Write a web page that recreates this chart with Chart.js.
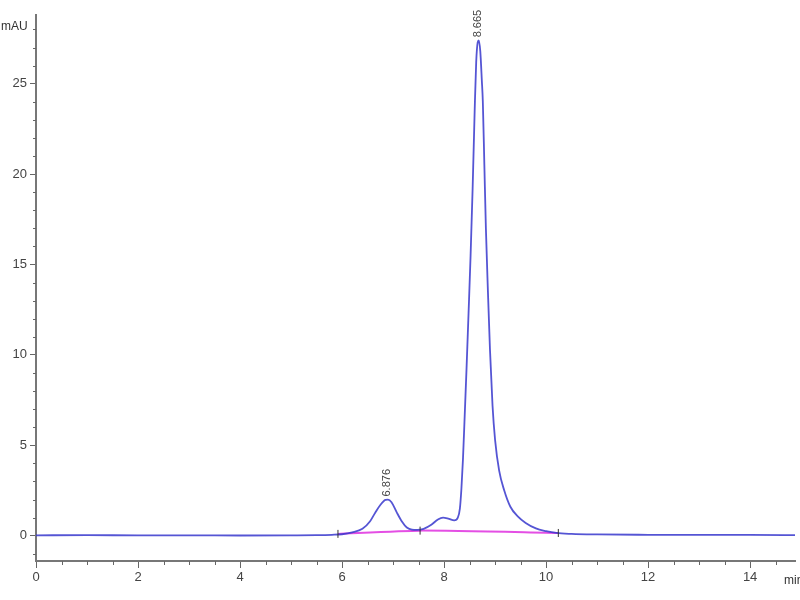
<!DOCTYPE html>
<html>
<head>
<meta charset="utf-8">
<script src="https://cdn.jsdelivr.net/npm/chart.js@4"></script>
<style>
  html, body { margin: 0; padding: 0; background: #fff; }
  #wrap { width: 800px; height: 600px; }
</style>
</head>
<body>
<div id="wrap"><canvas id="myChart" width="800" height="600"></canvas></div>
<script>
// chromatogram trace (min, mAU)
const times = [0, 1, 2, 3, 4, 5, 5.5, 5.8, 6.0, 6.2, 6.4, 6.55, 6.65, 6.75, 6.85, 6.9, 6.97, 7.07, 7.17, 7.27, 7.37, 7.47, 7.6, 7.75, 7.88, 7.98, 8.08, 8.2, 8.27, 8.31, 8.34, 8.37, 8.40, 8.44, 8.48, 8.52, 8.56, 8.60, 8.63, 8.66, 8.68, 8.71, 8.74, 8.76, 8.79, 8.82, 8.86, 8.90, 8.95, 9.0, 9.08, 9.18, 9.3, 9.45, 9.6, 9.8, 10.0, 10.2, 10.5, 11, 12, 13, 14, 15];
const signal = [0.02, 0.03, 0.02, 0.02, 0.01, 0.02, 0.03, 0.05, 0.08, 0.18, 0.38, 0.8, 1.27, 1.7, 1.98, 2.0, 1.85, 1.3, 0.8, 0.45, 0.33, 0.32, 0.38, 0.6, 0.9, 1.0, 0.95, 0.85, 1.0, 1.5, 2.6, 4.2, 6.3, 9.2, 12.3, 15.5, 19.2, 23.5, 26.2, 27.3, 27.4, 26.8, 25.2, 24.0, 20.5, 17.0, 13.5, 10.3, 7.2, 5.3, 3.6, 2.5, 1.6, 1.05, 0.7, 0.4, 0.25, 0.15, 0.1, 0.07, 0.05, 0.04, 0.04, 0.03];

// integration baseline
const baseTimes = [5.92, 7.53, 10.24];
const baseValues = [0.1, 0.28, 0.15];

// peak labels
const peakTimes = [6.876, 8.665];
const peakHeights = [2.0, 27.4];
const peakLabels = ['6.876', '8.665'];

const fontFam = "'Liberation Sans Narrow', 'Liberation Sans', Arial, sans-serif";

const extras = {
    id: 'extras',
    afterDraw(chart) {
        const c = chart.ctx;
        const xs = chart.scales.x, ys = chart.scales.y;
        c.save();
        c.strokeStyle = '#666';
        c.lineWidth = 1;
        // minor ticks y
        for (let v = -1; v <= 28; v++) {
            if (v % 5 === 0) continue;
            const p = Math.round(ys.getPixelForValue(v)) + 0.5;
            c.beginPath(); c.moveTo(xs.left - 3, p); c.lineTo(xs.left, p); c.stroke();
        }
        // minor ticks x
        for (let v = 0.5; v < 15; v += 0.5) {
            if (v % 2 === 0) continue;
            const p = Math.round(xs.getPixelForValue(v)) + 0.5;
            c.beginPath(); c.moveTo(p, ys.bottom); c.lineTo(p, ys.bottom + 4); c.stroke();
        }
        // axis titles
        c.fillStyle = '#333';
        c.font = '12px ' + fontFam;
        c.textAlign = 'left';
        c.textBaseline = 'alphabetic';
        c.fillText('mAU', 1, 30);
        c.fillText('min', 784, 584);
        // peak labels
        c.font = '11px ' + fontFam;
        c.fillStyle = '#444';
        peakTimes.forEach((t, i) => {
            const px = xs.getPixelForValue(t);
            const py = ys.getPixelForValue(peakHeights[i]) - 3;
            c.save();
            c.translate(px, py);
            c.rotate(-Math.PI / 2);
            c.textAlign = 'left';
            c.textBaseline = 'middle';
            c.fillText(peakLabels[i], 0, 0);
            c.restore();
        });
        c.restore();
    }
};

const ctx = document.getElementById('myChart').getContext('2d');
let myChart = new Chart(ctx, {
    type: 'line',
    data: {
        datasets: [
            {
                label: 'Baseline',
                data: baseTimes.map((t, i) => ({ x: t, y: baseValues[i] })),
                borderColor: 'rgba(225, 60, 225, 0.9)',
                borderWidth: 2,
                pointRadius: 0,
                tension: 0.2,
                order: 2
            },
            {
                label: 'Signal',
                data: times.map((t, i) => ({ x: t, y: signal[i] })),
                borderColor: 'rgba(55, 55, 205, 0.85)',
                borderWidth: 1.8,
                pointRadius: 0,
                cubicInterpolationMode: 'monotone',
                order: 1
            },
            {
                label: 'Marks',
                data: baseTimes.map((t, i) => ({ x: t, y: baseValues[i] })),
                showLine: false,
                pointStyle: 'line',
                rotation: 90,
                pointRadius: 4,
                borderColor: '#333',
                borderWidth: 1,
                order: 0
            }
        ]
    },
    options: {
        responsive: false,
        animation: false,
        layout: { padding: { top: 15, right: 0, left: 0, bottom: 0 } },
        plugins: { legend: { display: false }, tooltip: { enabled: false } },
        scales: {
            x: {
                type: 'linear',
                min: 0,
                max: 14.88,
                afterFit: (s) => { s.height = 39; },
                border: { color: '#777', width: 2 },
                grid: { drawOnChartArea: false, tickLength: 7, color: '#666' },
                ticks: {
                    stepSize: 2,
                    includeBounds: false,
                    padding: 2,
                    color: '#444',
                    font: { size: 13, family: fontFam },
                    maxRotation: 0
                }
            },
            y: {
                min: -1.4,
                max: 28.8,
                afterFit: (s) => { s.width = 36; },
                border: { color: '#777', width: 2 },
                grid: { drawOnChartArea: false, tickLength: 6, color: '#666' },
                ticks: {
                    stepSize: 5,
                    includeBounds: false,
                    padding: 3,
                    color: '#444',
                    font: { size: 13, family: fontFam }
                }
            }
        }
    },
    plugins: [extras]
});
</script>
</body>
</html>
